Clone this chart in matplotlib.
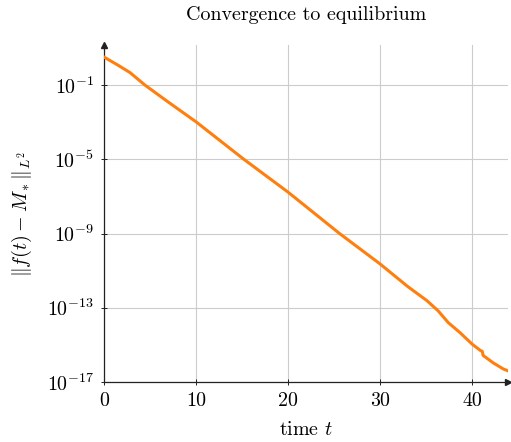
import matplotlib
matplotlib.use("Agg")
import matplotlib.pyplot as plt

plt.rcParams['font.family'] = 'serif'
plt.rcParams['font.serif'] = ['cmr10', 'DejaVu Serif']
plt.rcParams['mathtext.fontset'] = 'cm'
plt.rcParams['axes.unicode_minus'] = False

# Data (time vs. L2 distance to equilibrium)
time = [0, 1.5, 2.83, 4.45, 7, 10, 15.2, 20, 25.6, 30, 33, 35.1, 36.3, 37.4,
        38.7, 40.0, 40.9, 41.1, 41.2, 42.3, 43.4, 43.9]
error = [3.24, 1.2, 0.47, 0.1, 1.2e-2, 1.05e-3, 1e-5, 1.7e-7, 1e-9, 2.3e-11,
         1.4e-12, 2.4e-13, 6.9e-14, 1.6e-14, 4.5e-15, 1.1e-15, 5.0e-16,
         4.5e-16, 2.7e-16, 1.07e-16, 5.0e-17, 4.0e-17]

xticks = [0, 10, 20, 30, 40]
yticks = [1e-17, 1e-13, 1e-9, 1e-5, 1e-1]
ytick_labels = [r'$10^{-17}$', r'$10^{-13}$', r'$10^{-9}$', r'$10^{-5}$', r'$10^{-1}$']

fig = plt.figure(figsize=(5.11, 4.42), dpi=100)
ax = fig.add_axes([104 / 511, 1 - 382 / 442, 404 / 511, 337 / 442])

ax.plot(time, error, color='#ff7f0e', linewidth=2.2, zorder=3)

ax.set_yscale('log')
ax.set_xlim(0, 43.9)
ax.set_ylim(1e-17, 10 ** 1.16)
ax.set_xticks(xticks)
ax.set_xticklabels([str(x) for x in xticks])
ax.set_yticks(yticks)
ax.set_yticklabels(ytick_labels)
ax.minorticks_off()
ax.tick_params(labelsize=14.4, direction='inout', length=4, width=0.6,
               colors='black', pad=5)

ax.grid(True, color='#cccccc', linewidth=0.8)
ax.set_axisbelow(True)

for side in ['top', 'right']:
    ax.spines[side].set_visible(False)
for side in ['left', 'bottom']:
    ax.spines[side].set_linewidth(0.9)
    ax.spines[side].set_color('#222222')

# arrow heads at the axis ends
ax.plot(1, 0, '>', color='#222222', markersize=4, transform=ax.transAxes, clip_on=False)
ax.plot(0, 1, '^', color='#222222', markersize=4, transform=ax.transAxes, clip_on=False)

ax.set_title('Convergence to equilibrium', fontsize=14.4, pad=18)
ax.set_xlabel('time $t$', fontsize=14.4, labelpad=8)
ax.set_ylabel(r'$\|f(t)-M_*\|_{L^2}$', fontsize=14.4, labelpad=9)

fig.savefig('out.png', dpi=100)
